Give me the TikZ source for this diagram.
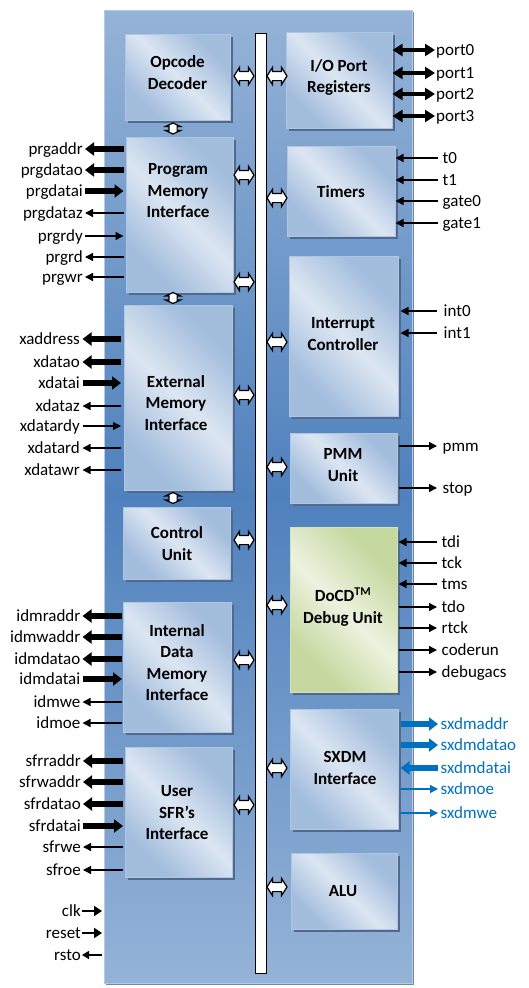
\documentclass[tikz,border=0pt]{standalone}
\usepackage{fontspec}
\setmainfont{Carlito}
\usetikzlibrary{arrows.meta,shapes.arrows,shadows}
\definecolor{chipL}{HTML}{95B3D7}
\definecolor{chipD}{HTML}{4F81BD}
\definecolor{blkL}{HTML}{DCE6F2}
\definecolor{blkD}{HTML}{A3BDDD}
\definecolor{blkB}{HTML}{AFC5E2}
\definecolor{grnL}{HTML}{EDF2E0}
\definecolor{grnD}{HTML}{C5D89F}
\definecolor{grnB}{HTML}{D3E2B6}
\definecolor{shd}{HTML}{51698E}
\definecolor{sx}{HTML}{0070C0}
\pgfdeclarehorizontalshading{blkshade}{100bp}{color(0bp)=(blkD); color(28bp)=(blkD); color(50bp)=(blkL); color(72bp)=(blkD); color(100bp)=(blkD)}
\pgfdeclarehorizontalshading{grnshade}{100bp}{color(0bp)=(grnD); color(28bp)=(grnD); color(50bp)=(grnL); color(72bp)=(grnD); color(100bp)=(grnD)}
\begin{document}
\begin{tikzpicture}[x=1pt,y=-1pt,
  chipbox/.style={anchor=north west, inner sep=0pt, draw=chipL!70!white, line width=0.8pt,
    top color=chipL, bottom color=chipL, middle color=chipD,
    drop shadow={shadow xshift=2pt, shadow yshift=-2pt, fill=shd!80!white, opacity=1}},
  blk/.style={anchor=north west, inner sep=0pt, draw=blkB, line width=0.5pt, shade, shading=blkshade, shading angle=45,
    drop shadow={shadow xshift=2.5pt, shadow yshift=-3pt, fill=shd, opacity=1}},
  gblk/.style={blk, draw=grnB, shading=grnshade},
  busbar/.style={anchor=north west, inner sep=0pt, draw=black, line width=1.3pt, fill=white},
  ttl/.style={font=\fontsize{17}{21.5}\selectfont\bfseries, align=center, inner sep=0pt},
  lbl/.style={font=\fontsize{17}{20}\selectfont, inner xsep=1pt, inner ysep=0pt, text height=11.5pt, text depth=1.5pt},
  harr/.style={double arrow, draw=black, fill=white, line width=1.2pt, inner xsep=0pt, inner ysep=4pt,
    minimum height=20pt, minimum width=16pt, double arrow head extend=4pt, double arrow tip angle=115},
  varr/.style={double arrow, draw=black, fill=white, line width=1.2pt, inner xsep=0pt, inner ysep=3.5pt,
    minimum height=11pt, minimum width=14pt, double arrow head extend=3.5pt, double arrow tip angle=130, rotate=90},
  thkout/.style={line width=5.5pt, -{Triangle[length=9pt,width=13pt]}},
  thkin/.style={line width=5.5pt, {Triangle[length=9pt,width=13pt]}-},
  thnout/.style={line width=1.3pt, -{Triangle[length=8pt,width=8pt]}},
  thnin/.style={line width=1.3pt, {Triangle[length=8pt,width=8pt]}-},
  shortin/.style={line width=2pt, -{Triangle[length=8pt,width=10pt]}},
  shortout/.style={line width=2pt, -{Triangle[length=8pt,width=10pt]}},
  portarr/.style={line width=4.5pt, {Triangle[length=10pt,width=12pt]}-{Triangle[length=10pt,width=12pt]}}
]
\useasboundingbox (0,0) rectangle (528,988);
\node[chipbox, minimum width=308pt, minimum height=973pt] (chip) at (104,10) {};
\node[busbar, minimum width=11pt, minimum height=940pt] (bus) at (255,33) {};

% left blocks
\node[blk, minimum width=105pt, minimum height=86pt] (bOpc) at (125,34) {};
\node[blk, minimum width=107pt, minimum height=155pt] (bPmi) at (126,137) {};
\node[blk, minimum width=108pt, minimum height=185pt] (bEmi) at (124,305) {};
\node[blk, minimum width=107pt, minimum height=72pt] (bCu) at (123,507) {};
\node[blk, minimum width=108pt, minimum height=130pt] (bIdm) at (123,602) {};
\node[blk, minimum width=107pt, minimum height=130pt] (bSfr) at (125,747) {};
% right blocks
\node[blk, minimum width=106pt, minimum height=96pt] (bIo) at (286,32) {};
\node[blk, minimum width=108pt, minimum height=90pt] (bTim) at (287,146) {};
\node[blk, minimum width=109pt, minimum height=160pt] (bIrq) at (289,256) {};
\node[blk, minimum width=107pt, minimum height=70pt] (bPmm) at (290,433) {};
\node[gblk, minimum width=107pt, minimum height=165pt] (bDocd) at (290,527) {};
\node[blk, minimum width=108pt, minimum height=120pt] (bSxdm) at (290,709) {};
\node[blk, minimum width=106pt, minimum height=76pt] (bAlu) at (291,853) {};

% titles
\node[ttl] (tOpc) at (177.5,72.5) {Opcode\\Decoder};
\node[ttl] (tPmi) at (178,191) {Program\\Memory\\Interface};
\node[ttl] (tEmi) at (176,403) {External\\Memory\\Interface};
\node[ttl] (tCu) at (177,543.5) {Control\\Unit};
\node[ttl] (tIdm) at (177,662.5) {Internal\\Data\\Memory\\Interface};
\node[ttl] (tSfr) at (177,813) {User\\SFR’s\\Interface};
\node[ttl] (tIo) at (339,77.5) {I/O Port\\Registers};
\node[ttl] (tTim) at (341,192) {Timers};
\node[ttl] (tIrq) at (343,334) {Interrupt\\Controller};
\node[ttl] (tPmm) at (343,465) {PMM\\Unit};
\node[ttl] (tDocd) at (343,607) {DoCD\textsuperscript{TM}\\Debug Unit};
\node[ttl] (tSxdm) at (345,768) {SXDM\\Interface};
\node[ttl] (tAlu) at (343,891) {ALU};

% bus arrows
\foreach \n/\y in {a1/76,a2/175,a3/282,a4/395,a5/540,a6/660,a7/805}
  \node[harr] (\n) at (244,\y) {};
\foreach \n/\y in {b1/76,b2/198,b3/342,b4/467,b5/605,b6/768,b7/887}
  \node[harr] (\n) at (277,\y) {};
\foreach \n/\y in {v1/128.5,v2/298,v3/498}
  \node[varr] (\n) at (173,\y) {};

% left signals
\foreach \s/\y/\st in {prgaddr/149/thkout, prgdatao/170/thkout, prgdatai/191/thkin, prgdataz/213/thnout, prgrdy/236/thnin, prgrd/257/thnout, prgwr/277/thnout}{
  \node[lbl, anchor=east] (\s) at (84,\y) {\s};
  \draw[\st, shorten <=2.5pt, shorten >=1pt] (bPmi.west |- \s.east) -- (\s.east);
}
\foreach \s/\y/\st in {xaddress/339/thkout, xdatao/362/thkout, xdatai/383/thkin, xdataz/406/thnout, xdatardy/426/thnin, xdatard/448/thnout, xdatawr/470/thnout}{
  \node[lbl, anchor=east] (\s) at (81,\y) {\s};
  \draw[\st, shorten <=3pt, shorten >=1.5pt] (bEmi.west |- \s.east) -- (\s.east);
}
\foreach \s/\y/\st in {idmraddr/616/thkout, idmwaddr/637/thkout, idmdatao/659/thkout, idmdatai/679/thkin, idmwe/702/thnout, idmoe/723/thnout}{
  \node[lbl, anchor=east] (\s) at (81.5,\y) {\s};
  \draw[\st, shorten <=1pt, shorten >=1pt] (bIdm.west |- \s.east) -- (\s.east);
}
\foreach \s/\y/\st in {sfrraddr/761/thkout, sfrwaddr/782/thkout, sfrdatao/804/thkout, sfrdatai/826/thkin, sfrwe/847/thnout, sfroe/870/thnout}{
  \node[lbl, anchor=east] (\s) at (82,\y) {\s};
  \draw[\st, shorten <=2pt, shorten >=1pt] (bSfr.west |- \s.east) -- (\s.east);
}
\foreach \s/\y/\st in {clk/911/thnin, reset/933/thnin, rsto/955/thnout}{
  \node[lbl, anchor=east] (\s) at (82,\y) {\s};
}
\draw[line width=2pt, -{Triangle[length=8pt,width=10pt]}, shorten >=2pt] (clk.east) -- (chip.west |- clk.east);
\draw[line width=2pt, -{Triangle[length=8pt,width=10pt]}, shorten >=2pt] (reset.east) -- (chip.west |- reset.east);
\draw[line width=1.5pt, -{Triangle[length=7pt,width=8pt]}, shorten <=2pt] (chip.west |- rsto.east) -- (rsto.east);

% right signals
\foreach \s/\y in {port0/50, port1/73, port2/94, port3/116}{
  \node[lbl, anchor=west] (\s) at (435,\y) {\s};
  \draw[portarr] (bIo.east |- \s.west) -- (\s.west);
}
\foreach \s/\y in {t0/158, t1/180, gate0/201, gate1/223}{
  \node[lbl, anchor=west] (\s) at (441.5,\y) {\s};
  \draw[thnin, shorten >=3.5pt] (bTim.east |- \s.west) -- (\s.west);
}
\foreach \s/\y in {int0/311, int1/333}{
  \node[lbl, anchor=west] (\s) at (442.5,\y) {\s};
  \draw[thnin, shorten <=2pt, shorten >=5.5pt] (bIrq.east |- \s.west) -- (\s.west);
}
\foreach \s/\y in {pmm/446, stop/488}{
  \node[lbl, anchor=west] (\s) at (441.5,\y) {\s};
  \draw[thnout, shorten <=1pt, shorten >=4.5pt] (bPmm.east |- \s.west) -- (\s.west);
}
\foreach \s/\y/\st in {tdi/542/thnin, tck/563/thnin, tms/584/thnin, tdo/607/thnout, rtck/628/thnout, coderun/650/thnout, debugacs/672/thnout}{
  \node[lbl, anchor=west] (\s) at (440.5,\y) {\s};
  \draw[\st, shorten <=1pt, shorten >=3.5pt] (bDocd.east |- \s.west) -- (\s.west);
}
\foreach \s/\y/\st in {sxdmaddr/724/thkout, sxdmdatao/745/thkout, sxdmdatai/768/thkin, sxdmoe/789/thnout, sxdmwe/813/thnout}{
  \node[lbl, anchor=west, text=sx] (\s) at (439.5,\y) {\s};
  \draw[\st, draw=sx, fill=sx, shorten <=2pt, shorten >=1.5pt] (bSxdm.east |- \s.west) -- (\s.west);
}
\end{tikzpicture}
\end{document}
